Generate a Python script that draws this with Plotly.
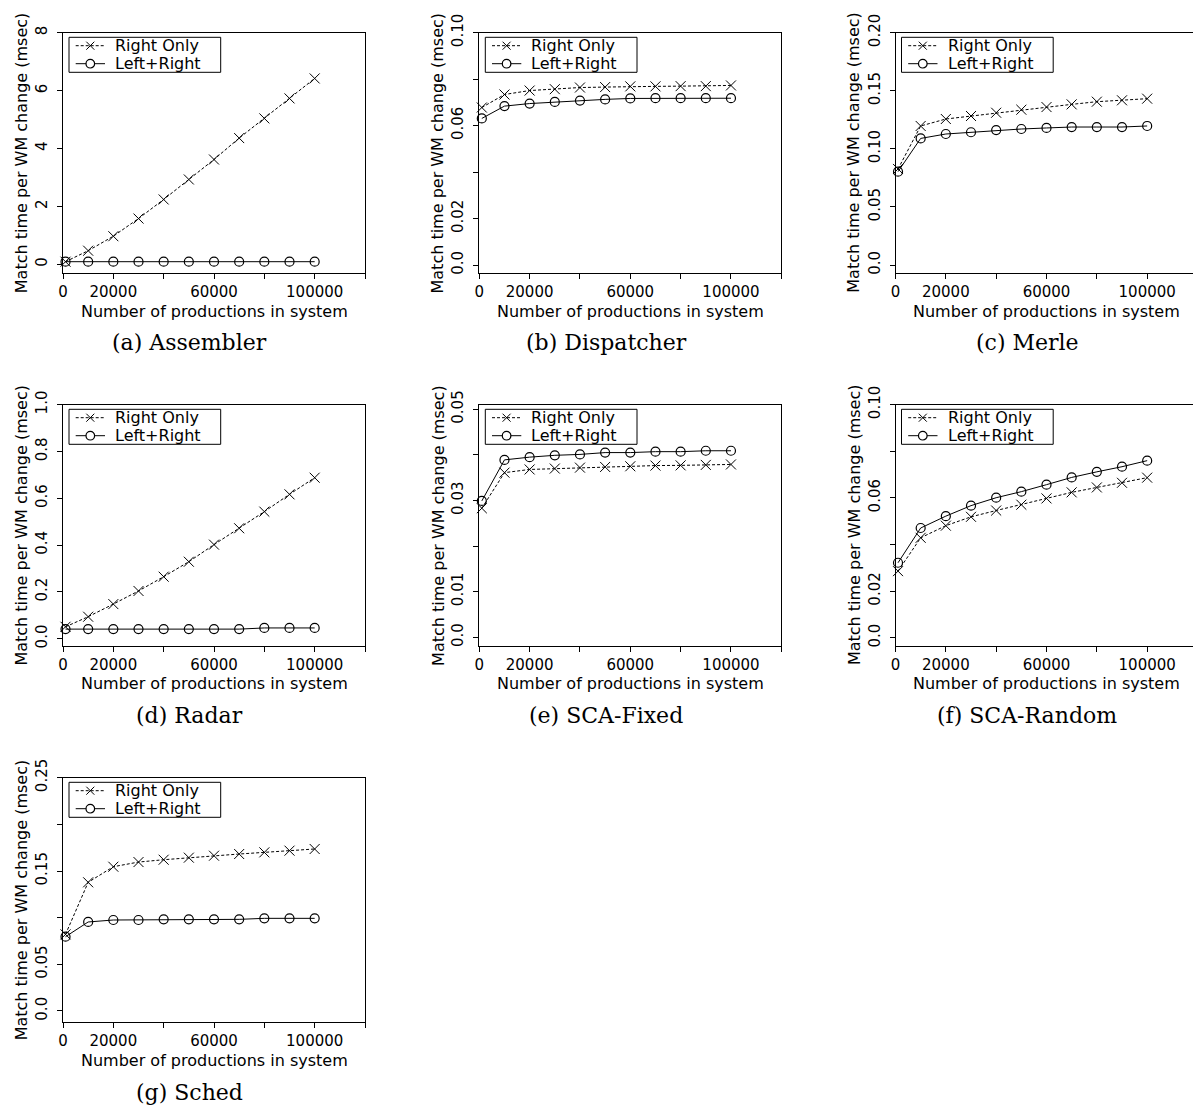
import plotly.graph_objects as go

W, H = 1193, 1109

# ---------------- data ----------------
x_prod = [1000, 10000, 20000, 30000, 40000, 50000, 60000, 70000, 80000, 90000, 100000]

assembler_right = [0.09, 0.47, 0.97, 1.58, 2.24, 2.93, 3.62, 4.36, 5.04, 5.73, 6.42]
assembler_left = [0.09, 0.09, 0.09, 0.09, 0.09, 0.09, 0.09, 0.09, 0.09, 0.09, 0.09]

dispatcher_right = [0.0678, 0.0734, 0.0751, 0.0757, 0.0764, 0.0766, 0.0769, 0.0769, 0.0770, 0.0770, 0.0773]
dispatcher_left = [0.0631, 0.0684, 0.0695, 0.0702, 0.0708, 0.0713, 0.0717, 0.0718, 0.0718, 0.0718, 0.0718]

merle_right = [0.0827, 0.1197, 0.1257, 0.1283, 0.1311, 0.1337, 0.1360, 0.1383, 0.1406, 0.1418, 0.1432]
merle_left = [0.0804, 0.1090, 0.1128, 0.1143, 0.1162, 0.1171, 0.1180, 0.1188, 0.1188, 0.1188, 0.1197]

radar_right = [0.051, 0.094, 0.148, 0.204, 0.265, 0.329, 0.402, 0.472, 0.543, 0.617, 0.688]
radar_left = [0.041, 0.041, 0.041, 0.041, 0.041, 0.041, 0.041, 0.041, 0.046, 0.046, 0.046]

scafixed_right = [0.0283, 0.0361, 0.0368, 0.0370, 0.0372, 0.03735, 0.0375, 0.03765, 0.0377, 0.0378, 0.0379]
scafixed_left = [0.0299, 0.0389, 0.0395, 0.0399, 0.0401, 0.0405, 0.0405, 0.0407, 0.0407, 0.0409, 0.0409]

scarandom_right = [0.0286, 0.0429, 0.0481, 0.0519, 0.0546, 0.0571, 0.0598, 0.0624, 0.0645, 0.0665, 0.0687]
scarandom_left = [0.0322, 0.0471, 0.0522, 0.0567, 0.0601, 0.0627, 0.0657, 0.0688, 0.0712, 0.0734, 0.0760]

sched_right = [0.0821, 0.1379, 0.1546, 0.1596, 0.1621, 0.1643, 0.1664, 0.1682, 0.1700, 0.1718, 0.1736]
sched_left = [0.0796, 0.0954, 0.0975, 0.0975, 0.0982, 0.0982, 0.0982, 0.0982, 0.0993, 0.0993, 0.0993]

captions = ["(a) Assembler", "(b) Dispatcher", "(c) Merle", "(d) Radar",
            "(e) SCA-Fixed", "(f) SCA-Random", "(g) Sched"]
series_names = ["Right Only", "Left+Right"]

x_tickvals = [0, 20000, 40000, 60000, 80000, 100000, 120000]
x_ticktext = ["0", "20000", "", "60000", "", "100000", ""]

y_tickvals = [
    [0, 2, 4, 6, 8],
    [0, 0.02, 0.04, 0.06, 0.08, 0.10],
    [0, 0.05, 0.10, 0.15, 0.20],
    [0, 0.2, 0.4, 0.6, 0.8, 1.0],
    [0, 0.01, 0.02, 0.03, 0.04, 0.05],
    [0, 0.02, 0.04, 0.06, 0.08, 0.10],
    [0, 0.05, 0.10, 0.15, 0.20, 0.25],
]
y_ticktext = [
    ["0", "2", "4", "6", "8"],
    ["0.0", "0.02", "", "0.06", "", "0.10"],
    ["0.0", "0.05", "0.10", "0.15", "0.20"],
    ["0.0", "0.2", "0.4", "0.6", "0.8", "1.0"],
    ["0.0", "0.01", "", "0.03", "", "0.05"],
    ["0.0", "0.02", "", "0.06", "", "0.10"],
    ["0.0", "0.05", "", "0.15", "", "0.25"],
]

right_series = [assembler_right, dispatcher_right, merle_right, radar_right,
                scafixed_right, scarandom_right, sched_right]
left_series = [assembler_left, dispatcher_left, merle_left, radar_left,
               scafixed_left, scarandom_left, sched_left]

# ---------------- layout (pixel geometry) ----------------
y_ranges = [
    [-0.29, 8.0],
    [-0.0033, 0.100],
    [-0.0066, 0.200],
    [-0.029, 1.0],
    [-0.0018, 0.051],
    [-0.0033, 0.100],
    [-0.0118, 0.250],
]
col_left = [63.0, 479.3, 895.5]
row_top = [32.7, 404.7, 777.7]
row_bottom = [272.7, 645.5, 1022.0]
caption_cx = [189.0, 606.0, 1027.0]
BOX_W = 302.0
X_MAX = 120000.0

FONT = "DejaVu Sans"
CAP_FONT = "DejaVu Serif"
FS = 16
TICK_FS = 15


def fx(px):
    return px / W


def fy(py):
    return 1 - py / H


fig = go.Figure()
shapes = []
annotations = []

for i in range(7):
    r, c = divmod(i, 3)
    L = col_left[c]
    T = row_top[r]
    B = row_bottom[r]
    R = min(L + BOX_W, W)
    xmax = (R - L) / BOX_W * X_MAX
    sfx = "" if i == 0 else str(i + 1)
    xa, ya = "x" + sfx, "y" + sfx

    fig.add_trace(go.Scatter(
        x=x_prod, y=right_series[i], xaxis=xa, yaxis=ya, name=series_names[0],
        mode="lines+markers", showlegend=False, cliponaxis=False,
        line=dict(color="black", width=1, dash="3px,2px"),
        marker=dict(symbol="x-thin-open", size=10, color="black",
                    line=dict(color="black", width=1)),
    ))
    fig.add_trace(go.Scatter(
        x=x_prod, y=left_series[i], xaxis=xa, yaxis=ya, name=series_names[1],
        mode="lines+markers", showlegend=False, cliponaxis=False,
        line=dict(color="black", width=1),
        marker=dict(symbol="circle-open", size=9, color="black",
                    line=dict(color="black", width=1.2)),
    ))

    common = dict(showline=True, linecolor="black", linewidth=1,
                  ticks="outside", ticklen=5, tickwidth=1, tickcolor="black",
                  showgrid=False, zeroline=False, automargin=False,
                  tickfont=dict(family=FONT, size=TICK_FS, color="black"))
    fig.update_layout(**{
        "xaxis" + sfx: dict(domain=[fx(L), fx(R)], range=[0, xmax], anchor=ya,
                            tickmode="array", tickvals=x_tickvals, ticktext=x_ticktext,
                            mirror=True, **common),
        "yaxis" + sfx: dict(domain=[fy(B), fy(T)], range=y_ranges[i], anchor=xa,
                            tickmode="array", tickvals=y_tickvals[i], ticktext=y_ticktext[i],
                            tickangle=-90, ticklabelstandoff=4, mirror=(c != 2), **common),
    })

    # axis titles
    annotations.append(dict(text="Number of productions in system", xref="paper", yref="paper",
                            x=fx(L + BOX_W / 2), y=fy(B + 38.3), xanchor="center", yanchor="middle",
                            showarrow=False, borderpad=0,
                            font=dict(family=FONT, size=FS, color="black")))
    annotations.append(dict(text="Match time per WM change (msec)", xref="paper", yref="paper",
                            x=fx(L - 41.5), y=fy((T + B) / 2), xanchor="center", yanchor="middle",
                            textangle=-90, showarrow=False, borderpad=0,
                            font=dict(family=FONT, size=FS, color="black")))
    # caption
    annotations.append(dict(text=captions[i], xref="paper", yref="paper",
                            x=fx(caption_cx[c]), y=fy(B + 70), xanchor="center", yanchor="middle",
                            showarrow=False, borderpad=0,
                            font=dict(family=CAP_FONT, size=22, color="black")))

    # legend (box, samples, labels)
    shapes.append(dict(type="rect", xref="paper", yref="paper",
                       x0=fx(L + 6), x1=fx(L + 157.7), y0=fy(T + 39.6), y1=fy(T + 4.6),
                       line=dict(color="black", width=1), fillcolor="white", layer="above"))
    r1, r2 = T + 13, T + 31
    mx = L + 27.3
    shapes.append(dict(type="line", xref="paper", yref="paper",
                       x0=fx(L + 12.7), x1=fx(L + 42), y0=fy(r1), y1=fy(r1),
                       line=dict(color="black", width=1, dash="3px,2px"), layer="above"))
    shapes.append(dict(type="line", xref="paper", yref="paper",
                       x0=fx(mx - 4), x1=fx(mx + 4), y0=fy(r1 - 4), y1=fy(r1 + 4),
                       line=dict(color="black", width=1), layer="above"))
    shapes.append(dict(type="line", xref="paper", yref="paper",
                       x0=fx(mx - 4), x1=fx(mx + 4), y0=fy(r1 + 4), y1=fy(r1 - 4),
                       line=dict(color="black", width=1), layer="above"))
    shapes.append(dict(type="line", xref="paper", yref="paper",
                       x0=fx(L + 12.7), x1=fx(L + 42), y0=fy(r2), y1=fy(r2),
                       line=dict(color="black", width=1), layer="above"))
    shapes.append(dict(type="circle", xref="paper", yref="paper",
                       x0=fx(mx - 4.3), x1=fx(mx + 4.3), y0=fy(r2 + 4.3), y1=fy(r2 - 4.3),
                       line=dict(color="black", width=1.2), fillcolor="white", layer="above"))
    for name, ry in zip(series_names, (r1, r2)):
        annotations.append(dict(text=name, xref="paper", yref="paper",
                                x=fx(L + 51), y=fy(ry), xanchor="left", yanchor="middle",
                                showarrow=False, borderpad=0,
                                font=dict(family=FONT, size=FS, color="black")))

fig.update_layout(
    width=W, height=H, autosize=False,
    margin=dict(l=0, r=0, t=0, b=0, pad=0, autoexpand=False),
    paper_bgcolor="white", plot_bgcolor="white",
    shapes=shapes, annotations=annotations, showlegend=False,
)

fig.write_html("out.html", include_plotlyjs=True,
               config={"displayModeBar": False},
               post_script="document.body.style.margin='0';")
